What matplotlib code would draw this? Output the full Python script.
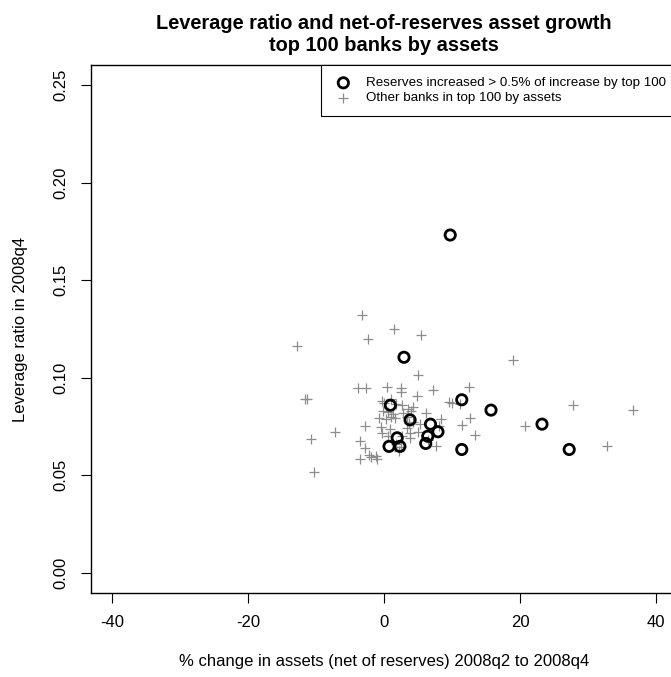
import matplotlib.pyplot as plt
import numpy as np

plt.rcParams['font.family'] = ['Liberation Sans', 'DejaVu Sans']
plt.rcParams['axes.unicode_minus'] = False

# banks where reserves rose > 0.5% of the top-100 increase
res_x = [9.7, 2.9, 0.9, 11.4, 15.7, 3.8, 6.8, 7.9, 23.2, 1.9, 6.4, 6.1, 0.7, 2.3, 11.4, 27.2]
res_y = [0.1732, 0.1105, 0.0859, 0.0887, 0.0834, 0.0784, 0.0762, 0.0723, 0.0762,
         0.0692, 0.0700, 0.0663, 0.0648, 0.0648, 0.0632, 0.0632]

# other banks in the top 100
oth_x = [-12.8, -11.6, -11.4, -10.8, -10.4, -7.3, -3.2, -2.4, 1.4, 5.4, 18.9, 4.9,
         -3.9, -2.7, 0.4, 2.4, 2.5, 7.2, 12.5, 4.8, 9.5, 11.1, 27.8, 36.6,
         -0.4, 0.0, 1.0, 1.8, 2.6, 3.5, 4.3, 6.2, -0.2, 0.6, 1.3, 2.8, 3.3, 4.0,
         -0.8, 0.2, 1.0, 1.6, 3.6, 4.2, 5.2, 12.6, 8.3, 20.7, 11.5, 13.4,
         -2.9, -0.5, 0.8, -0.3, 0.5, 3.3, 3.8, 5.0, 3.8, 2.6,
         -3.5, -2.9, -2.3, -3.5, -1.2, -1.0, -2.0, 7.6, 32.7, 2.1, 2.5, 1.8, 6.5, 8.0, 10.0]
oth_y = [0.1164, 0.0889, 0.0889, 0.0685, 0.0516, 0.0723, 0.1324, 0.1199, 0.1249, 0.1219, 0.1091, 0.1014,
         0.0949, 0.0949, 0.0953, 0.0946, 0.0925, 0.0938, 0.0953, 0.0905, 0.0878, 0.0867, 0.0859, 0.0834,
         0.0881, 0.0870, 0.0890, 0.0865, 0.0860, 0.0840, 0.0850, 0.0821, 0.0830, 0.0825, 0.0815, 0.0818, 0.0800, 0.0830,
         0.0795, 0.0790, 0.0800, 0.0795, 0.0770, 0.0775, 0.0765, 0.0793, 0.0786, 0.0755, 0.0757, 0.0707,
         0.0751, 0.0745, 0.0735, 0.0715, 0.0700, 0.0740, 0.0715, 0.0720, 0.0690, 0.0700,
         0.0676, 0.0639, 0.0606, 0.0584, 0.0600, 0.0584, 0.0595, 0.0648, 0.0648, 0.0624, 0.0645, 0.0660, 0.0680, 0.0750, 0.0870]

fig = plt.figure(figsize=(6.71, 6.77), dpi=100)
ax = fig.add_axes([90.5 / 671, 84 / 677, 587.5 / 671, 528 / 677])

ax.scatter(oth_x, oth_y, marker='+', s=60, color='#8c8c8c', linewidths=0.9,
           label='Other banks in top 100 by assets', zorder=2)
ax.scatter(res_x, res_y, marker='o', s=55, facecolors='none', edgecolors='black', linewidths=2,
           label='Reserves increased > 0.5% of increase by top 100', zorder=3)

ax.set_xlim(-43.2, 43.2)
ax.set_ylim(-0.0104, 0.2604)
ax.set_xticks([-40, -20, 0, 20, 40])
ax.set_yticks([0.0, 0.05, 0.10, 0.15, 0.20, 0.25])
ax.set_yticklabels(['0.00', '0.05', '0.10', '0.15', '0.20', '0.25'], rotation=90, va='center')
ax.tick_params(direction='out', length=7, width=0.8, labelsize=12, pad=9)
for s in ax.spines.values():
    s.set_linewidth(1.0)

ax.set_xlabel('% change in assets (net of reserves) 2008q2 to 2008q4', fontsize=12, labelpad=17)
ax.set_ylabel('Leverage ratio in 2008q4', fontsize=12, labelpad=18)
ax.set_title('Leverage ratio and net-of-reserves asset growth\ntop 100 banks by assets',
             fontsize=14.4, fontweight='bold', pad=10, x=(384.3 - 90.5) / 587.5, linespacing=1.2)

h, l = ax.get_legend_handles_labels()
leg = ax.legend(h[::-1], l[::-1], loc='upper right', fontsize=9.6, fancybox=False,
                edgecolor='black', framealpha=1, borderaxespad=0, handletextpad=0.9,
                handlelength=1.6, borderpad=0.9, labelspacing=0.2)
leg.get_frame().set_linewidth(0.8)

fig.savefig('out.png', dpi=100)
